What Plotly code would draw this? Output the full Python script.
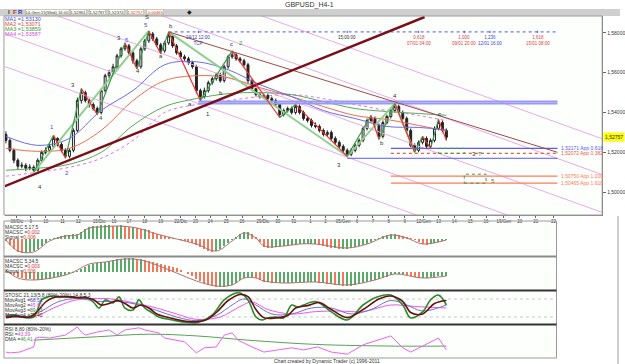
import plotly.graph_objects as go

# ---------------- data ----------------
bar_idx = list(range(112))
opens = [1.5290,1.5260,1.5210,1.5160,1.5130,1.5135,1.5120,1.5125,1.5110,1.5160,1.5200,1.5210,1.5230,1.5270,1.5240,1.5210,1.5180,1.5210,1.5310,1.5460,
         1.5500,1.5460,1.5440,1.5420,1.5400,1.5510,1.5585,1.5600,1.5630,1.5685,1.5720,1.5735,1.5700,1.5660,1.5630,1.5720,1.5760,1.5795,1.5770,1.5740,
         1.5710,1.5750,1.5785,1.5735,1.5700,1.5680,1.5670,1.5650,1.5630,1.5510,1.5480,1.5510,1.5550,1.5570,1.5590,1.5560,1.5630,1.5680,1.5690,1.5670,
         1.5660,1.5640,1.5560,1.5520,1.5490,1.5480,1.5485,1.5470,1.5460,1.5440,1.5390,1.5410,1.5420,1.5400,1.5430,1.5400,1.5370,1.5360,1.5335,1.5330,
         1.5310,1.5290,1.5300,1.5270,1.5250,1.5230,1.5210,1.5190,1.5210,1.5235,1.5260,1.5320,1.5360,1.5370,1.5335,1.5280,1.5350,1.5380,1.5410,1.5430,
         1.5400,1.5370,1.5310,1.5235,1.5210,1.5250,1.5270,1.5230,1.5260,1.5320,1.5350,1.5310]
closes = [1.5260,1.5210,1.5160,1.5130,1.5135,1.5120,1.5125,1.5110,1.5160,1.5200,1.5210,1.5230,1.5270,1.5240,1.5210,1.5180,1.5210,1.5310,1.5460,1.5500,
          1.5460,1.5440,1.5420,1.5400,1.5510,1.5585,1.5600,1.5630,1.5685,1.5720,1.5735,1.5700,1.5660,1.5630,1.5720,1.5760,1.5795,1.5770,1.5740,1.5710,
          1.5750,1.5785,1.5735,1.5700,1.5680,1.5670,1.5650,1.5630,1.5510,1.5480,1.5510,1.5550,1.5570,1.5590,1.5560,1.5630,1.5680,1.5690,1.5670,1.5660,
          1.5640,1.5560,1.5520,1.5490,1.5480,1.5485,1.5470,1.5460,1.5440,1.5390,1.5410,1.5420,1.5400,1.5430,1.5400,1.5370,1.5360,1.5335,1.5330,1.5310,
          1.5290,1.5300,1.5270,1.5250,1.5230,1.5210,1.5190,1.5210,1.5235,1.5260,1.5320,1.5360,1.5370,1.5335,1.5280,1.5350,1.5380,1.5410,1.5430,1.5400,
          1.5370,1.5310,1.5235,1.5210,1.5250,1.5270,1.5230,1.5260,1.5320,1.5350,1.5310,1.52757]
highs = [1.5305,1.5270,1.5220,1.5170,1.5150,1.5145,1.5140,1.5135,1.5170,1.5210,1.5225,1.5245,1.5285,1.5275,1.5250,1.5220,1.5220,1.5320,1.5475,1.5520,
         1.5510,1.5470,1.5450,1.5430,1.5520,1.5595,1.5615,1.5645,1.5695,1.5730,1.5750,1.5745,1.5710,1.5670,1.5730,1.5770,1.5810,1.5805,1.5780,1.5750,
         1.5760,1.5805,1.5795,1.5745,1.5710,1.5690,1.5680,1.5660,1.5640,1.5520,1.5525,1.5560,1.5580,1.5600,1.5600,1.5640,1.5690,1.5710,1.5700,1.5680,
         1.5670,1.5650,1.5570,1.5530,1.5500,1.5495,1.5495,1.5480,1.5470,1.5450,1.5420,1.5430,1.5430,1.5440,1.5440,1.5410,1.5380,1.5370,1.5350,1.5340,
         1.5320,1.5310,1.5310,1.5280,1.5260,1.5240,1.5220,1.5220,1.5245,1.5270,1.5330,1.5370,1.5385,1.5380,1.5345,1.5360,1.5390,1.5420,1.5445,1.5440,
         1.5410,1.5380,1.5320,1.5245,1.5260,1.5280,1.5280,1.5270,1.5330,1.5365,1.5360,1.5320]
lows = [1.5245,1.5200,1.5145,1.5115,1.5120,1.5105,1.5110,1.5100,1.5105,1.5150,1.5190,1.5200,1.5220,1.5230,1.5200,1.5170,1.5170,1.5200,1.5300,1.5445,
        1.5450,1.5425,1.5410,1.5390,1.5390,1.5500,1.5570,1.5590,1.5620,1.5675,1.5710,1.5690,1.5645,1.5620,1.5620,1.5710,1.5750,1.5760,1.5730,1.5695,
        1.5700,1.5740,1.5725,1.5690,1.5670,1.5660,1.5640,1.5620,1.5495,1.5460,1.5470,1.5500,1.5540,1.5560,1.5550,1.5550,1.5620,1.5670,1.5660,1.5650,
        1.5630,1.5545,1.5510,1.5480,1.5470,1.5470,1.5460,1.5450,1.5430,1.5375,1.5380,1.5400,1.5390,1.5390,1.5390,1.5360,1.5350,1.5325,1.5320,1.5300,
        1.5280,1.5280,1.5260,1.5240,1.5220,1.5200,1.5180,1.5180,1.5200,1.5225,1.5250,1.5310,1.5350,1.5325,1.5265,1.5270,1.5340,1.5370,1.5400,1.5390,
        1.5360,1.5300,1.5225,1.5200,1.5200,1.5240,1.5220,1.5220,1.5250,1.5310,1.5300,1.5260]

ma_idx = [0, 8, 16, 24, 32, 40, 48, 56, 64, 72, 80, 88, 96, 104, 111]
ma1 = [1.5280,1.5235,1.5270,1.5410,1.5510,1.5640,1.5655,1.5615,1.5540,1.5480,1.5410,1.5370,1.5330,1.5325,1.5313]
ma2 = [1.5220,1.5205,1.5220,1.5310,1.5460,1.5560,1.5585,1.5575,1.5525,1.5480,1.5430,1.5385,1.5365,1.5335,1.5307]
ma3 = [1.5110,1.5120,1.5140,1.5200,1.5335,1.5430,1.5470,1.5495,1.5500,1.5490,1.5455,1.5420,1.5405,1.5395,1.5386]
ma4 = [1.5080,1.5100,1.5125,1.5170,1.5260,1.5400,1.5440,1.5460,1.5480,1.5490,1.5470,1.5440,1.5410,1.5385,1.5359]

swing_idx = [7,12,15,19,23,30,33,36,39,41,49,57,69,73,86,92,94,98,103,105,107,109,111]
swing_px = [1.5100,1.5285,1.5170,1.5520,1.5390,1.5750,1.5620,1.5810,1.5695,1.5805,1.5460,1.5710,1.5375,
            1.5440,1.5180,1.5385,1.5265,1.5445,1.5200,1.5280,1.5220,1.5365,1.5260]
big_idx = [7, 36, None, 41, 86, 98, 103]
big_px = [1.5100, 1.5810, None, 1.5805, 1.5180, 1.5445, 1.5200]

trend_idx = [-1.5, 105.5]
trend_px = [1.5020, 1.5880]
trend2_idx = [41, 139]
trend2_px = [1.5805, 1.5200]
chan_idx = [-1.5, 150.25]
chan_start = [1.6360, 1.6180, 1.5990, 1.5805, 1.5640]
chan_end = [1.5268, 1.5088, 1.4898, 1.4713, 1.4548]

price_ticks = [1.50, 1.52, 1.54, 1.56, 1.58]
price_labels = ["1,50000", "1,52000", "1,54000", "1,56000", "1,58000"]
last_price = 1.52757

date_ticks = [2.75,6.25,10,14.25,18.25,23.5,27.25,31,35,39,44,47.75,51.5,55.5,59.5,64.75,68.5,72.5,76.75,80.5,
              85,88.5,92.5,96.5,100.5,105.25,109,113,117,121,125.5,129.5,133.5,138]
date_labels = ["08/Dic","9","10","11","12","15/Dic","16","17","18","19","22/Dic","23","24","25","26","29/Dic","30","31","1","2",
               "05/Gen","6","7","8","9","12/Gen","13","14","15","16","19/Gen","20","21","22"]

top_level = 1.5805
top_level_start = 41
band_levels = [1.5455, 1.5445]
band_start = 48.5
low_blue_level = 1.5170
low_blue_start = 86
proj_levels = [1.5220, 1.5195, 1.5080, 1.5045]
proj_labels = ["1,52171 App 0,618", "1,52072 App 0,382", "1,50750 App 1,000", "1,50465 App 1,618"]
proj_start = 97
level_end = 139

time_idx = [48.5, 86, 104, 115.5, 122, 134]
time_labels = ["24/12 12:00<br>TCP", "15:00:00", "0,618<br>07/01 04:00", "1,000<br>09/01 20:00", "1,236<br>12/01 16:00", "1,618<br>15/01 08:00"]

box_i0 = [109, 115.5]
box_i1 = [115.5, 121]
box_p0 = [1.5195, 1.5045]
box_p1 = [1.5220, 1.5090]

wave_labels = [("4", 8.5, 1.5025), ("1", 11.5, 1.5325), ("2", 15.5, 1.5095), ("3", 17.0, 1.5540),
               ("4", 24.0, 1.5370), ("3", 28.5, 1.5775), ("5", 30.5, 1.5765), ("4", 33.2, 1.5610),
               ("5", 35.3, 1.5840), ("S", 35.5, 1.5880), ("a", 39.0, 1.5685), ("b", 41.5, 1.5835),
               ("a", 46.5, 1.5445), ("1", 51.0, 1.5395), ("b", 54.2, 1.5500), ("c", 56.8, 1.5745),
               ("2", 59.2, 1.5750), ("3", 84.0, 1.5135), ("b", 94.8, 1.5245), ("4", 98.0, 1.5485),
               ("c", 109.2, 1.5395), ("3", 118.0, 1.5192), ("T", 119.5, 1.5192), ("5", 122.8, 1.5058)]

macd1_hist = [-2,-6,-10,-13,-14,-14,-13,-12,-10,-7,-4,-1,
              1,2,3,4,4,5,5,7,10,12,13,13,
              14,14,14,13,13,14,13,12,12,11,10,10,
              9,7,5,4,3,2,1,0,-1,-2,-3,-4,
              -6,-8,-10,-12,-13,-12,-10,-7,-4,-1,2,5,
              7,7,5,2,-3,-8,-9,-9,-8,-8,-7,-7,
              -6,-6,-5,-5,-5,-5,-5,-6,-7,-8,-9,-9,
              -10,-10,-10,-9,-8,-7,-6,-5,-3,-1,1,3,
              4,5,5,4,3,2,1,-1,-3,-5,-6,-5,
              -4,-3,-2,-1]
macd1_sig_idx = [0,3,7,11,15,18,21,24,28,33,38,43,48,53,57,60,63,65,70,74,78,86,91,97,101,105,111]
macd1_sig = [-1,-12,-13,-2,3,4,11,12,13,11,5,0,-5,-12,-2,6,1,-7,-7,-5,-5,-9,-5,4,1,-5,-1]

macd2_hist = [1,-1,-3,-5,-6,-7,-7,-8,-8,-8,-7,-7,
              -6,-5,-4,-3,-2,-1,1,3,5,7,8,9,
              10,10,11,12,13,13,14,14,14,13,13,12,
              11,10,9,8,7,6,5,4,2,0,-2,-4,
              -7,-9,-11,-13,-14,-15,-15,-15,-14,-13,-11,-8,
              -6,-5,-5,-6,-8,-10,-10,-11,-11,-11,-11,-11,
              -11,-10,-10,-10,-10,-10,-10,-11,-11,-12,-12,-13,
              -13,-14,-14,-14,-13,-12,-11,-10,-9,-8,-7,-6,
              -5,-3,-2,-2,-2,-3,-4,-5,-6,-6,-6,-5,
              -5,-4,-4,-4]
macd2_sig_idx = [0,3,7,15,18,21,25,30,34,38,43,48,53,57,60,63,65,70,78,86,93,98,105,111]
macd2_sig = [2,-6,-8,-3,2,8,10,13,12,7,-1,-9,-14,-13,-6,-6,-9,-11,-10,-13,-8,-2,-6,-4]

stk_idx = [0,2,4,7,9,10.5,12,14,16.5,18.5,20,22,23.5,25,27,28.5,30,32,33.5,35,37,38.5,42,45,48.5,52,55,58,59,61,
           63,64.5,66,68,70,72,73.5,75,77,78.5,82,86,90,93.5,97,100,102,105,107,109,111]
stk_k = [20,27,20,20,77,87,90,87,87,83,87,70,50,77,67,87,50,43,77,50,33,20,10,3,3,27,77,100,100,77,
         20,10,17,20,17,60,53,60,70,70,37,10,60,87,93,60,17,37,77,93,60]
std_idx = [0,3,6,8,10,12,15,18,20,22,24,26,28,30,32,34,36,38,42,46,50,53,56,59,61,63,65,68,71,73,76,79,82,86,90,94,97,100,102,105,108,111]
std_d = [18,22,20,40,70,85,88,85,84,78,60,65,75,65,50,60,50,30,15,5,8,35,75,95,88,45,18,17,25,50,58,68,45,18,45,80,90,72,35,30,65,75]
stb_idx = [0,5,9,13,18,23,28,33,38,43,48,53,57,60,63,67,72,77,82,87,92,97,101,105,111]
stb = [25,20,40,70,82,72,72,62,42,20,8,25,60,80,60,30,30,50,50,30,45,75,60,40,60]
stm_idx = [0,7,12,17,23,28,33,38,43,48,54,59,62,66,72,78,84,90,97,103,111]
stm = [30,22,50,75,82,78,65,50,30,12,20,55,70,45,30,38,40,38,60,55,50]

rsi_idx = [0,1,3.5,7,7.5,8.5,11,15,18,19,20,23,26,28,30,33.5,35,38.5,40,43,45,48,50,53,55,57,58.5,62,65,68.5,
           72,75,78.5,82,86,90,93.5,97,100,102,105,107,109,111]
rsi = [24,22,24,36,57,59,57,64,83,71,64,71,76,64,76,81,76,69,57,52,48,22,34,36,64,69,52,36,24,29,
       34,29,36,24,19,41,52,62,34,24,38,48,57,29]
dma_idx = [7,23,36,48,61,78,98,111]
dma = [52,60,66,62,52,42,38,38]

# ---------------- helpers (layout only) ----------------
W, H = 625, 364
def fx(px):
    return px / W
def fy(px):
    return 1 - px / H

FONT = "Liberation Sans"
GREEN = "#5aaa6a"
RED = "#f4775a"

fig = go.Figure()

for s, e in zip(chan_start, chan_end):
    fig.add_trace(go.Scatter(x=chan_idx, y=[s, e], mode="lines",
                             line=dict(color="#e9a9ee", width=1), hoverinfo="skip"))

fig.add_trace(go.Scatter(x=ma_idx, y=ma4, mode="lines", line=dict(color="#ee66ee", width=1, dash="dot", shape="spline")))
fig.add_trace(go.Scatter(x=ma_idx, y=ma3, mode="lines", line=dict(color="#5aa85a", width=1, shape="spline")))
fig.add_trace(go.Scatter(x=ma_idx, y=ma2, mode="lines", line=dict(color="#f06a50", width=1, shape="spline")))
fig.add_trace(go.Scatter(x=ma_idx, y=ma1, mode="lines", line=dict(color="#6a6af0", width=1, shape="spline")))

fig.add_trace(go.Scatter(x=[top_level_start, level_end], y=[top_level, top_level], mode="lines",
                         line=dict(color="#5050ff", width=1, dash="dot")))
for lv in band_levels:
    fig.add_trace(go.Scatter(x=[band_start, level_end], y=[lv, lv], mode="lines",
                             line=dict(color="#9a9af5", width=2)))
fig.add_trace(go.Scatter(x=[low_blue_start, level_end], y=[low_blue_level, low_blue_level], mode="lines",
                         line=dict(color="#5a5af5", width=1)))
proj_colors = ["#5a5af5", "#f05a3c", "#ff7a5a", "#ff7a5a"]
proj_dash = ["solid", "dot", "solid", "solid"]
for lv, c, d in zip(proj_levels, proj_colors, proj_dash):
    fig.add_trace(go.Scatter(x=[proj_start, level_end], y=[lv, lv], mode="lines",
                             line=dict(color=c, width=1.3, dash=d)))

fig.add_trace(go.Scatter(x=big_idx, y=big_px, mode="lines", connectgaps=False,
                         line=dict(color="#8fcf8f", width=2)))

fig.add_trace(go.Scatter(x=trend2_idx, y=trend2_px, mode="lines", line=dict(color="#a04848", width=1)))
fig.add_trace(go.Scatter(x=trend_idx, y=trend_px, mode="lines", line=dict(color="#7a0f1a", width=2.5)))

fig.add_trace(go.Candlestick(x=bar_idx, open=opens, high=highs, low=lows, close=closes,
                             increasing=dict(line=dict(color="#222222", width=1), fillcolor="#ffffff"),
                             decreasing=dict(line=dict(color="#222222", width=1), fillcolor="#222222"),
                             hoverinfo="skip"))

up_x, up_y, dn_x, dn_y = [], [], [], []
for k in range(len(swing_idx) - 1):
    seg_x = [swing_idx[k], swing_idx[k + 1], None]
    seg_y = [swing_px[k], swing_px[k + 1], None]
    if swing_px[k + 1] > swing_px[k]:
        up_x += seg_x; up_y += seg_y
    else:
        dn_x += seg_x; dn_y += seg_y
fig.add_trace(go.Scatter(x=up_x, y=up_y, mode="lines", line=dict(color="#3a9a4a", width=1.2)))
fig.add_trace(go.Scatter(x=dn_x, y=dn_y, mode="lines", line=dict(color="#f03030", width=1.2)))

def hist_colors(vals):
    cols = []
    for k, v in enumerate(vals):
        prev = vals[k - 1] if k > 0 else v
        cols.append(GREEN if v >= prev else RED)
    return cols

fig.add_trace(go.Bar(x=bar_idx, y=macd1_hist, marker=dict(color=hist_colors(macd1_hist), line=dict(width=0)),
                     width=0.28, xaxis="x2", yaxis="y2"))
fig.add_trace(go.Scatter(x=macd1_sig_idx, y=macd1_sig, mode="lines", line=dict(color="#b07070", width=1, shape="spline"),
                         xaxis="x2", yaxis="y2"))
fig.add_trace(go.Bar(x=bar_idx, y=macd2_hist, marker=dict(color=hist_colors(macd2_hist), line=dict(width=0)),
                     width=0.28, xaxis="x2", yaxis="y3"))
fig.add_trace(go.Scatter(x=macd2_sig_idx, y=macd2_sig, mode="lines", line=dict(color="#b07070", width=1, shape="spline"),
                         xaxis="x2", yaxis="y3"))

fig.add_trace(go.Scatter(x=stm_idx, y=stm, mode="lines", line=dict(color="#ee55ee", width=1, shape="spline"), xaxis="x2", yaxis="y4"))
fig.add_trace(go.Scatter(x=stb_idx, y=stb, mode="lines", line=dict(color="#7070d0", width=1, shape="spline"), xaxis="x2", yaxis="y4"))
fig.add_trace(go.Scatter(x=stk_idx, y=stk_k, mode="lines", line=dict(color="#2a8a2a", width=1.6, shape="spline"), xaxis="x2", yaxis="y4"))
fig.add_trace(go.Scatter(x=std_idx, y=std_d, mode="lines", line=dict(color="#6a1010", width=1.6, shape="spline"), xaxis="x2", yaxis="y4"))

fig.add_trace(go.Scatter(x=dma_idx, y=dma, mode="lines", line=dict(color="#5aa05a", width=1, shape="spline"), xaxis="x2", yaxis="y5"))
fig.add_trace(go.Scatter(x=rsi_idx, y=rsi, mode="lines", line=dict(color="#f060f0", width=1), xaxis="x2", yaxis="y5"))

shapes = []
shapes.append(dict(type="rect", xref="paper", yref="paper", x0=0, x1=1, y0=fy(16), y1=fy(9),
                   fillcolor="#cfcfcf", line=dict(width=0), layer="below"))
shapes.append(dict(type="rect", xref="paper", yref="paper", x0=fx(4), x1=fx(607), y0=fy(215), y1=fy(16),
                   line=dict(color="#9a9a9a", width=1), fillcolor="rgba(0,0,0,0)"))
shapes.append(dict(type="rect", xref="paper", yref="paper", x0=fx(4), x1=fx(561), y0=fy(358), y1=fy(221),
                   line=dict(color="#9a9a9a", width=1), fillcolor="rgba(0,0,0,0)"))
shapes.append(dict(type="line", xref="paper", yref="paper", x0=fx(4), x1=fx(561), y0=fy(256.5), y1=fy(256.5),
                   line=dict(color="#8a8a8a", width=2)))
shapes.append(dict(type="line", xref="paper", yref="paper", x0=fx(4), x1=fx(561), y0=fy(290.5), y1=fy(290.5),
                   line=dict(color="#333333", width=2)))
shapes.append(dict(type="line", xref="paper", yref="paper", x0=fx(4), x1=fx(561), y0=fy(324.5), y1=fy(324.5),
                   line=dict(color="#333333", width=2)))
shapes.append(dict(type="line", xref="paper", yref="paper", x0=fx(623), x1=fx(623), y0=fy(364), y1=fy(216),
                   line=dict(color="#9a9a9a", width=1)))
for lv in (80, 20):
    shapes.append(dict(type="line", xref="paper", yref="y4", x0=fx(4), x1=fx(561), y0=lv, y1=lv,
                       line=dict(color="#c8c8c8", width=1, dash="dot"), layer="below"))
for a, b, c, d in zip(box_i0, box_i1, box_p0, box_p1):
    shapes.append(dict(type="rect", xref="x", yref="y", x0=a, x1=b, y0=c, y1=d,
                       line=dict(color="#3a9a4a", width=1, dash="dot"), fillcolor="rgba(0,0,0,0)"))
for ti in time_idx:
    shapes.append(dict(type="line", xref="x", yref="y", x0=ti, x1=ti, y0=top_level - 0.0006, y1=top_level + 0.0006,
                       line=dict(color="#5050ff", width=1)))

ann = []
def txt(x, y, text, color="#333333", size=6, xanchor="left", yanchor="middle", xref="paper", yref="paper", **kw):
    ann.append(dict(x=x, y=y, text=text, xref=xref, yref=yref, showarrow=False, xanchor=xanchor, yanchor=yanchor,
                    font=dict(family=FONT, size=size, color=color), **kw))

txt(fx(312), fy(5), "GBPUSD_H4-1", "#333333", 7, xanchor="center")
txt(fx(6), fy(12.5), "<b>I</b>", "#333333", 6)
txt(fx(11), fy(12.5), "<b>F</b>", "#c03030", 6)
txt(fx(16), fy(12.5), "<b>R</b>", "#3030c0", 6)
tool_items = [(25, "14-Gen-15(Wed) 16:00", "#333333"), (71, "1,52961", "#333333"), (90, "1,52787", "#333333"),
              (109, "1,52374", "#333333"), (128, "1,52757", "#e03030"), (147, "-0,00465", "#e03030")]
for px, t, c in tool_items:
    txt(fx(px), fy(12.5), t, c, 4.2, bgcolor="#fffff2", bordercolor="#a0a0a0", borderwidth=0.5, borderpad=0)
txt(fx(186), fy(12.5), "◆", "#222222", 6)

ma_leg = [("MA1 =1,53130", "#4a4af0"), ("MA2 =1,53071", "#e04a30"), ("MA3 =1,53859", "#3a9a3a"), ("MA4 =1,53587", "#e050e0")]
for k, (t, c) in enumerate(ma_leg):
    txt(fx(3), fy(19 + 5 * k), t, c, 5.5)

txt(fx(608), last_price, "1,52757", "#222222", 5, yref="y", bgcolor="#ffff00")

for lv, t, c in zip(proj_levels, proj_labels, proj_colors):
    txt(level_end + 0.5, lv, t, c, 5, xref="x", yref="y")
time_colors = ["#3a3aa0", "#333333", "#e04040", "#e04040", "#4040e0", "#e04040"]
for ti, t, c in zip(time_idx, time_labels, time_colors):
    txt(ti, top_level - 0.0007, t, c, 4.5, xanchor="center", yanchor="top", xref="x", yref="y")

for t, i, p in wave_labels:
    col = "#3a8a3a" if t in ("2", "S", "5", "T") and i > 50 else ("#4a4ae0" if t in ("5", "1", "2") and i < 40 else "#333333")
    txt(i, p, t, col, 6, xanchor="center", xref="x", yref="y")

txt(fx(3), fy(227), "MACSC 5,17,5", "#333333", 5)
txt(fx(3), fy(232), "MACSC =<span style='color:#e03030'>0,002</span>", "#333333", 5)
txt(fx(3), fy(237), "Signal =<span style='color:#e03030'>0,006</span>", "#333333", 5)
txt(fx(3), fy(261), "MACSC 5,34,5", "#333333", 5)
txt(fx(3), fy(266), "MACSC =<span style='color:#e03030'>0,003</span>", "#333333", 5)
txt(fx(3), fy(271), "Signal =<span style='color:#e03030'>0,006</span>", "#333333", 5)
txt(fx(3), fy(294.5), "STOSC 21,13(5,8 (80%-20%) 14,8,5,3", "#333333", 5)
txt(fx(3), fy(299.5), "MovAvg1 =<span style='color:#4040d0'>68,51</span>", "#333333", 5)
txt(fx(3), fy(304.5), "MovAvg2 =<span style='color:#e040e0'>45,61</span>", "#333333", 5)
txt(fx(3), fy(309.5), "MovAvg3 =<span style='color:#2a8a2a'>89,03</span>", "#333333", 5)
txt(fx(3), fy(314.5), "MovAvg4 =<span style='color:#7a1010'>75,40</span>", "#333333", 5)
txt(fx(3), fy(328.5), "RSI 8,80 (80%-20%)", "#333333", 5)
txt(fx(3), fy(333.5), "RSI =<span style='color:#e040e0'>43,39</span>", "#333333", 5)
txt(fx(3), fy(338.5), "DMA =<span style='color:#3a9a3a'>46,41</span>", "#333333", 5)
txt(fx(330), fy(361), "Chart created by Dynamic Trader (c) 1996-2011", "#333333", 5, xanchor="center")

fig.update_layout(
    width=W, height=H, autosize=False,
    margin=dict(l=0, r=0, t=0, b=0),
    paper_bgcolor="#ffffff", plot_bgcolor="#fdfffd",
    showlegend=False, bargap=0,
    font=dict(family=FONT, size=6, color="#333333"),
    xaxis=dict(domain=[fx(5), fx(607)], range=[-0.25, 150.25], anchor="y",
               tickmode="array", tickvals=date_ticks, ticktext=date_labels,
               tickfont=dict(size=4.5, color="#333333"), ticks="outside", ticklen=2, tickcolor="#666666",
               showgrid=False, zeroline=False, showline=True, linecolor="#888888",
               rangeslider=dict(visible=False), fixedrange=True),
    yaxis=dict(domain=[fy(215), fy(16)], range=[1.4885, 1.5885], anchor="x", side="right",
               tickmode="array", tickvals=price_ticks, ticktext=price_labels,
               tickfont=dict(size=5, color="#333333"), ticks="outside", ticklen=3, tickcolor="#666666",
               showgrid=False, zeroline=False, showline=True, linecolor="#777777"),
    xaxis2=dict(domain=[fx(5), fx(561)], range=[-0.25, 138.75], anchor="y2", visible=False),
    yaxis2=dict(domain=[fy(256), fy(222)], range=[-17, 17], anchor="x2", visible=False),
    yaxis3=dict(domain=[fy(290), fy(256)], range=[-18, 16], anchor="x2", visible=False),
    yaxis4=dict(domain=[fy(324), fy(290)], range=[-3.3, 110], anchor="x2", visible=False),
    yaxis5=dict(domain=[fy(358), fy(324)], range=[10, 90], anchor="x2", visible=False),
    shapes=shapes, annotations=ann,
)

fig.write_html("out.html")
